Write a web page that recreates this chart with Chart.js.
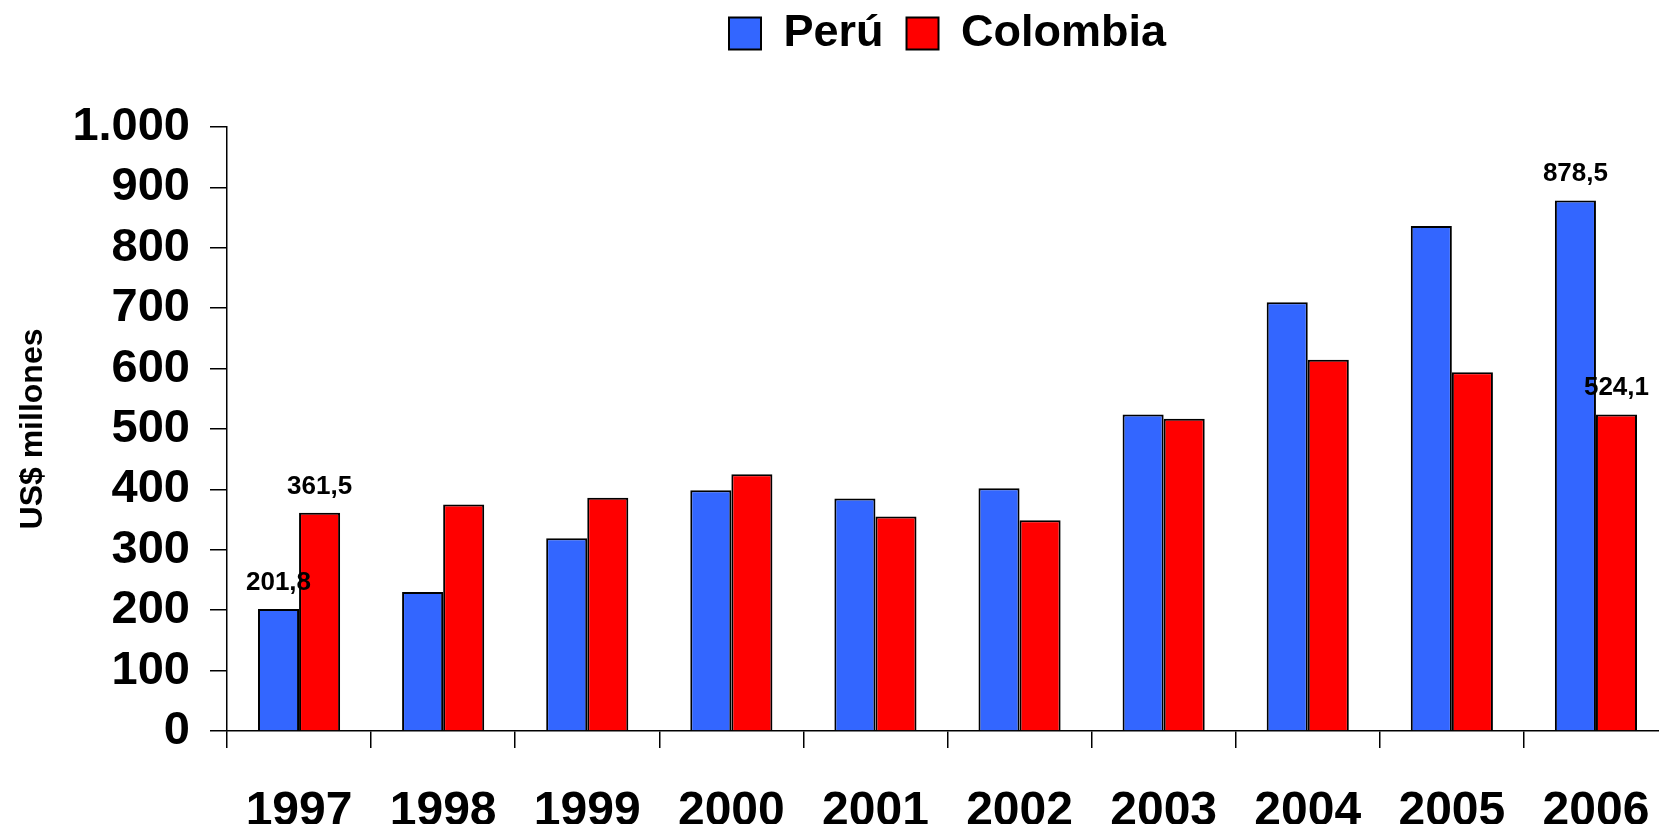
<!DOCTYPE html>
<html>
<head>
<meta charset="utf-8">
<script src="https://cdn.jsdelivr.net/npm/chart.js@4/dist/chart.umd.min.js"></script>
<style>
  html, body { margin: 0; padding: 0; background: #fff; overflow: hidden; }
  #chart { position: absolute; left: 0; top: 0; }
</style>
</head>
<body>
<canvas id="chart" width="1894" height="824"></canvas>
<script>
const years = ["1997", "1998", "1999", "2000", "2001", "2002", "2003", "2004", "2005", "2006"];
const peru = [201.8, 230, 319, 398.5, 385, 402, 524, 710, 836, 878.5];
const colombia = [361.5, 375, 386, 425, 355, 349, 517, 614.5, 594, 524.1];
// only the first and last years carry a value label
const peruLabels = ["201,8", null, null, null, null, null, null, null, null, "878,5"];
const colombiaLabels = ["361,5", null, null, null, null, null, null, null, null, "524,1"];
const yTickLabels = ["0", "100", "200", "300", "400", "500", "600", "700", "800", "900", "1.000"];

const FONT = "'Liberation Sans', Arial, sans-serif";

// draws the few value labels above their bars
const valueLabels = {
    id: "valueLabels",
    afterDatasetsDraw(chart) {
        const ctx = chart.ctx;
        const sets = [peruLabels, colombiaLabels];
        ctx.save();
        ctx.font = "bold 26px " + FONT;
        ctx.fillStyle = "#000";
        ctx.textAlign = "center";
        ctx.textBaseline = "alphabetic";
        sets.forEach((labels, d) => {
            chart.getDatasetMeta(d).data.forEach((bar, i) => {
                if (labels[i]) ctx.fillText(labels[i], bar.x, bar.y - 19);
            });
        });
        ctx.restore();
    }
};

// legend sits over the plot centre and leaves the gap under it like the original
const legendSpace = {
    id: "legendSpace",
    beforeInit(chart) {
        const fit = chart.legend.fit;
        chart.legend.fit = function () {
            fit.call(this);
            this.height = 127;
        };
    },
    afterLayout(chart) {
        const lg = chart.legend;
        const shift = (chart.chartArea.left + chart.chartArea.right) / 2 - (lg.left + lg.right) / 2;
        lg.left += shift;
        lg.right += shift;
        lg.top -= 12;
    }
};

const ctx = document.getElementById("chart").getContext("2d");
new Chart(ctx, {
    type: "bar",
    data: {
        labels: years,
        datasets: [{
            label: "Perú",
            data: peru,
            backgroundColor: "#3366FF",
            borderColor: "#000",
            borderWidth: 2
        }, {
            label: "Colombia",
            data: colombia,
            backgroundColor: "#FF0000",
            borderColor: "#000",
            borderWidth: 2
        }]
    },
    options: {
        responsive: false,
        animation: false,
        layout: { padding: { left: 0, right: 226, top: 0, bottom: 0 } },
        datasets: {
            bar: { categoryPercentage: 0.57, barPercentage: 1 }
        },
        plugins: {
            tooltip: { enabled: false },
            legend: {
                display: true,
                position: "top",
                labels: {
                    boxWidth: 32,
                    boxHeight: 32,
                    padding: 23,
                    color: "#000",
                    font: { family: FONT, size: 45, weight: "bold" }
                }
            }
        },
        scales: {
            x: {
                afterFit: (scale) => { scale.height = 93; },
                grid: {
                    offset: true,
                    drawOnChartArea: false,
                    drawTicks: true,
                    tickLength: 17,
                    color: "#000",
                    lineWidth: 1.5
                },
                border: { display: true, color: "#000", width: 1.5 },
                ticks: {
                    color: "#000",
                    padding: 35,
                    maxRotation: 0,
                    font: { family: FONT, size: 48, weight: "bold" }
                }
            },
            y: {
                min: 0,
                max: 1000,
                afterFit: (scale) => { scale.width = 227; },
                grid: {
                    drawOnChartArea: false,
                    drawTicks: true,
                    tickLength: 17,
                    color: "#000",
                    lineWidth: 1.5
                },
                border: { display: true, color: "#000", width: 1.5 },
                ticks: {
                    stepSize: 100,
                    color: "#000",
                    padding: 20,
                    font: { family: FONT, size: 47, weight: "bold" },
                    callback: (value, index) => yTickLabels[index]
                },
                title: {
                    display: true,
                    text: "US$ millones",
                    color: "#000",
                    padding: { top: 14, bottom: 0 },
                    font: { family: FONT, size: 32, weight: "bold" }
                }
            }
        }
    },
    plugins: [valueLabels, legendSpace]
});
</script>
</body>
</html>
